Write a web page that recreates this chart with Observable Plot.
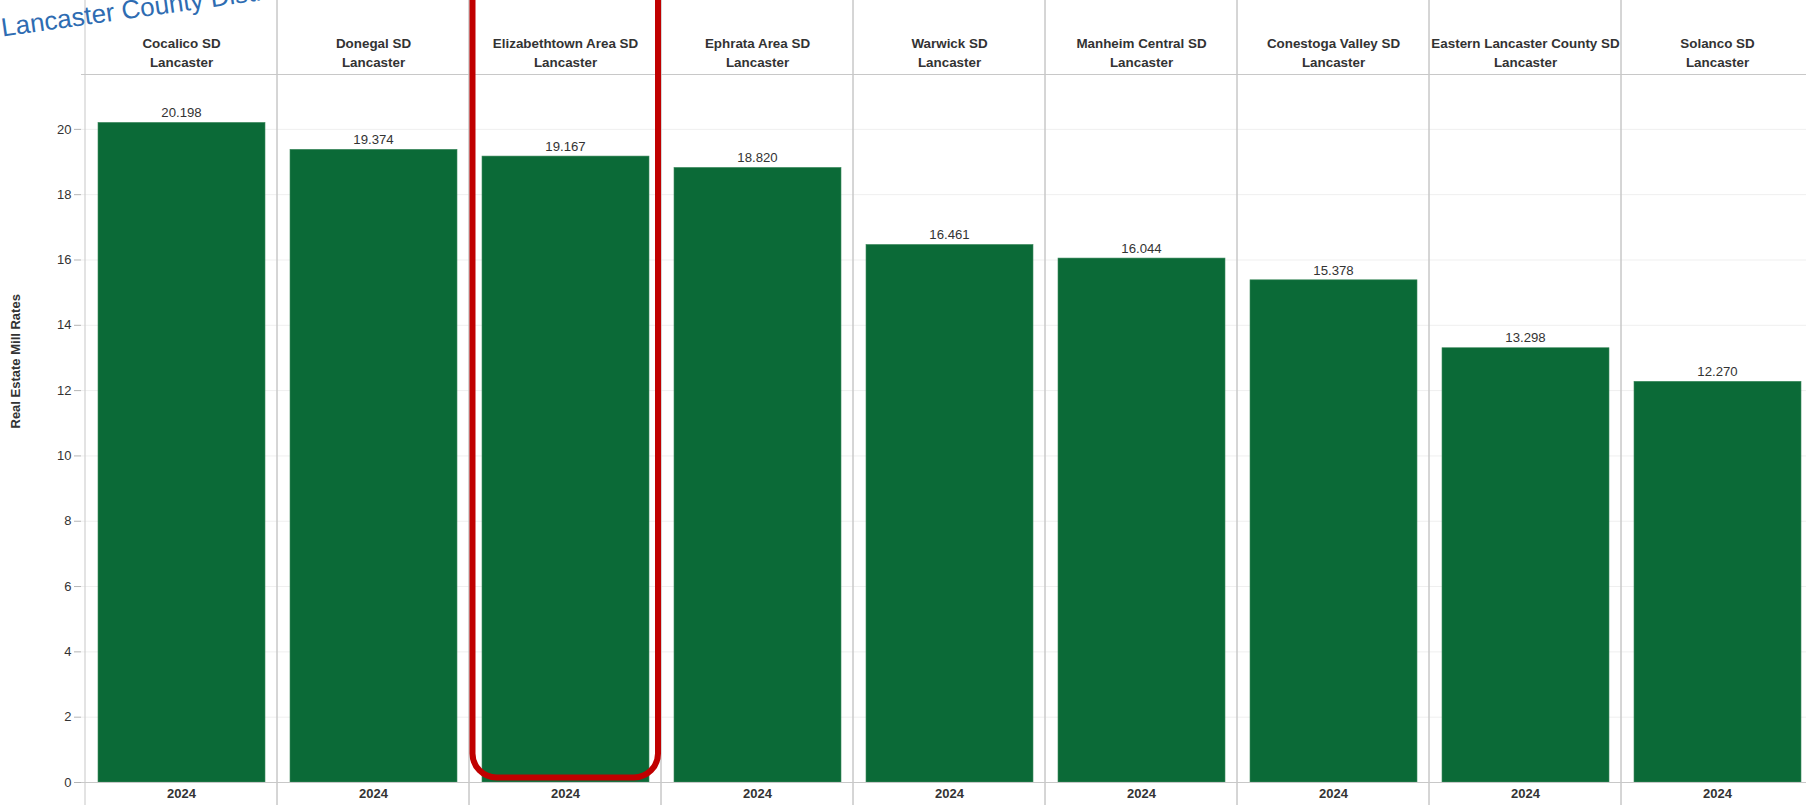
<!DOCTYPE html>
<html>
<head>
<meta charset="utf-8">
<script src="https://cdn.jsdelivr.net/npm/d3@7"></script>
<script src="https://cdn.jsdelivr.net/npm/@observablehq/plot@0.6"></script>
<style>
  html, body { margin: 0; padding: 0; background: #fff; overflow: hidden; width: 1806px; height: 805px; }
  #chart svg { max-width: none !important; display: block; }
</style>
</head>
<body>
<div id="chart"></div>
<script>
const districts = ["Cocalico SD", "Donegal SD", "Elizabethtown Area SD", "Ephrata Area SD", "Warwick SD", "Manheim Central SD", "Conestoga Valley SD", "Eastern Lancaster County SD", "Solanco SD"];
const counties = ["Lancaster", "Lancaster", "Lancaster", "Lancaster", "Lancaster", "Lancaster", "Lancaster", "Lancaster", "Lancaster"];
const years = ["2024", "2024", "2024", "2024", "2024", "2024", "2024", "2024", "2024"];
const millRates = [20.198, 19.374, 19.167, 18.820, 16.461, 16.044, 15.378, 13.298, 12.270];
const yTicks = [0, 2, 4, 6, 8, 10, 12, 14, 16, 18, 20];
const highlighted = "Elizabethtown Area SD";
const yTitle = "Real Estate Mill Rates";
const chartTitle = "Lancaster County Districts";

const data = districts.map((d, i) => ({district: d, county: counties[i], year: years[i], rate: millRates[i]}));

const font = "'Liberation Sans', Arial, Helvetica, sans-serif";
const lineColor = "#c8c8c8";

const chart = Plot.plot({
  width: 1816,
  height: 805,
  marginLeft: 81,
  marginRight: 0,
  marginTop: 74,
  marginBottom: 23,
  style: {fontFamily: font, background: "#fff", maxWidth: "none", overflow: "hidden"},
  x: {domain: districts, padding: 0, axis: null},
  y: {domain: [0, 21.68], axis: null},
  marks: [
    Plot.gridY(yTicks, {stroke: "#efefef", strokeOpacity: 1}),
    Plot.barY(data, {x: "district", y: "rate", fill: "#0b6a37", stroke: "#3f8a5f", strokeWidth: 0.6, insetLeft: 13, insetRight: 12}),
    Plot.ruleY([0], {stroke: lineColor}),
    Plot.cell(data, {x: "district", fill: "none", stroke: lineColor, insetTop: -80, insetBottom: -30}),
    Plot.frame({anchor: "top", stroke: lineColor}),
    Plot.axisY({ticks: yTicks, tickSize: 7, tickPadding: 3, stroke: "#b5b5b5", fill: "#333", fontSize: 13, label: null}),
    Plot.text(data, {x: "district", y: "rate", text: d => d.rate.toFixed(3), dy: -10, lineAnchor: "middle", fontSize: 13.2, fill: "#333"}),
    Plot.text(data, {x: "district", text: d => d.district + "\n" + d.county, frameAnchor: "top", lineAnchor: "middle", dy: -23.5, lineHeight: 1.42, fontSize: 13.4, fontWeight: "bold", fill: "#333"}),
    Plot.text(data, {x: "district", text: "year", frameAnchor: "bottom", lineAnchor: "middle", dy: 11, fontSize: 13, fontWeight: "bold", fill: "#333"}),
    Plot.text([yTitle], {text: d => d, frameAnchor: "left", lineAnchor: "middle", dx: -66, rotate: -90, fontSize: 13, fontWeight: "bold", fill: "#333"}),
    Plot.cell(data.filter(d => d.district === highlighted), {x: "district", fill: "none", stroke: "#c00000", strokeWidth: 6, rx: 24, insetLeft: 3.5, insetRight: 3, insetTop: -140, insetBottom: 4.5}),
    Plot.text([chartTitle], {text: d => d, frameAnchor: "top-left", dx: -79, dy: -38, textAnchor: "start", lineAnchor: "bottom", rotate: -8, fontSize: 26, fill: "#2e6cb2"})
  ]
});

document.getElementById("chart").appendChild(chart);
</script>
</body>
</html>
